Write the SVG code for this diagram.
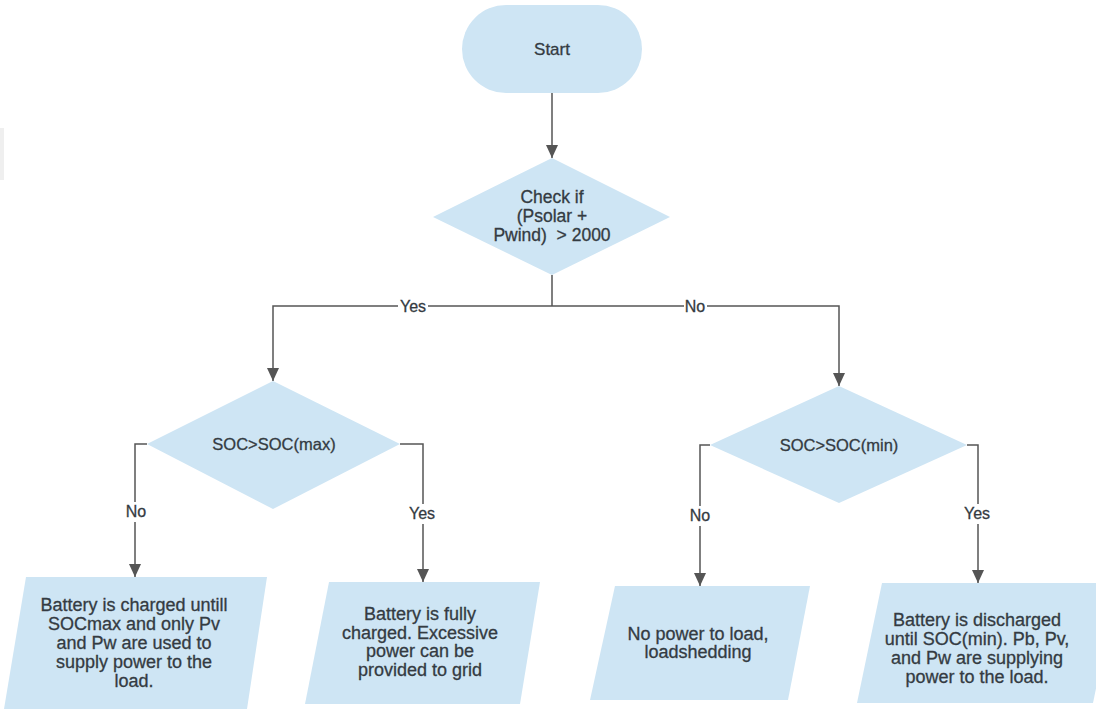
<svg xmlns="http://www.w3.org/2000/svg" width="1096" height="710" viewBox="0 0 1096 710">
  <style>
    .shape { fill: #cee5f4; stroke: none; }
    .edge { fill: none; stroke: #555555; stroke-width: 1.5; }
    .txt { font-family: "Liberation Sans", Arial, sans-serif; fill: #343b42; stroke: #343b42; stroke-width: 0.3; text-anchor: middle; }
    .t18 { font-size: 18px; }
    .t17 { font-size: 17.5px; }
    .t16 { font-size: 16.5px; }
    .lbl { font-family: "Liberation Sans", Arial, sans-serif; font-size: 16px; fill: #343b42; stroke: #343b42; stroke-width: 0.3; text-anchor: middle; }
    .lblbg { fill: #ffffff; }
  </style>
  <defs>
    <marker id="arrow" markerUnits="userSpaceOnUse" markerWidth="14" markerHeight="14" viewBox="0 0 14 14" refX="13" refY="7" orient="auto">
      <path d="M0,1 L13,7 L0,13 Z" fill="#555555"/>
    </marker>
  </defs>

  <rect x="0" y="128" width="4" height="52" fill="#efefef"/>

  <!-- connectors -->
  <g id="connectors">
    <path class="edge" d="M552,93 V158" marker-end="url(#arrow)"/>
    <path class="edge" d="M552,275 V306"/>
    <path class="edge" d="M552,306 H273 V381" marker-end="url(#arrow)"/>
    <path class="edge" d="M552,306 H839 V386" marker-end="url(#arrow)"/>
    <path class="edge" d="M147,444 H135 V577" marker-end="url(#arrow)"/>
    <path class="edge" d="M400,444 H423 V582" marker-end="url(#arrow)"/>
    <path class="edge" d="M710,445 H700 V586" marker-end="url(#arrow)"/>
    <path class="edge" d="M967,445 H978 V583" marker-end="url(#arrow)"/>

    <rect class="lblbg" x="398" y="297" width="30" height="18"/>
    <text class="lbl" x="413" y="312">Yes</text>
    <rect class="lblbg" x="684" y="297" width="23" height="18"/>
    <text class="lbl" x="695" y="312">No</text>

    <rect class="lblbg" x="125" y="502" width="22" height="20"/>
    <text class="lbl" x="136" y="517">No</text>
    <rect class="lblbg" x="407" y="504" width="31" height="20"/>
    <text class="lbl" x="422" y="519">Yes</text>
    <rect class="lblbg" x="689" y="506" width="22" height="20"/>
    <text class="lbl" x="700" y="521">No</text>
    <rect class="lblbg" x="962" y="504" width="31" height="20"/>
    <text class="lbl" x="977" y="519">Yes</text>
  </g>

  <g id="start">
    <rect class="shape" x="462" y="5" width="180" height="88" rx="44" ry="44"/>
    <text class="txt" style="font-size:17px" x="552" y="55">Start</text>
  </g>

  <g id="check-power">
    <polygon class="shape" points="552,158 670,217 552,275 433,217"/>
    <text class="txt t17" x="552" y="203">Check if</text>
    <text class="txt t17" x="552" y="222">(Psolar +</text>
    <text class="txt t17" x="552" y="241">Pwind)&#160; &gt; 2000</text>
  </g>

  <g id="soc-max">
    <polygon class="shape" points="273,381 400,444 273,509 147,444"/>
    <text class="txt t16" x="274" y="450">SOC&gt;SOC(max)</text>
  </g>

  <g id="soc-min">
    <polygon class="shape" points="839,386 967,445 839,503 710,445"/>
    <text class="txt t16" x="839" y="451">SOC&gt;SOC(min)</text>
  </g>

  <g id="charge-until-max">
    <polygon class="shape" points="26,577 267,577 247,709 4,709"/>
    <text class="txt t18" x="134" y="611">Battery is charged untill</text>
    <text class="txt t18" x="134" y="630">SOCmax and only Pv</text>
    <text class="txt t18" x="134" y="649">and Pw are used to</text>
    <text class="txt t18" x="134" y="668">supply power to the</text>
    <text class="txt t18" x="134" y="687">load.</text>
  </g>

  <g id="fully-charged">
    <polygon class="shape" points="329,582 540,582 520,704 305,704"/>
    <text class="txt t18" x="420" y="620">Battery is fully</text>
    <text class="txt t18" x="420" y="638.5">charged. Excessive</text>
    <text class="txt t18" x="420" y="657">power can be</text>
    <text class="txt t18" x="420" y="675.5">provided to grid</text>
  </g>

  <g id="load-shedding">
    <polygon class="shape" points="615,586 810,586 788,700 590,700"/>
    <text class="txt t18" x="698" y="640">No power to load,</text>
    <text class="txt t18" x="698" y="658">loadshedding</text>
  </g>

  <g id="discharge-until-min">
    <polygon class="shape" points="882,583 1118,583 1093,703 857,703"/>
    <text class="txt t18" x="977" y="626">Battery is discharged</text>
    <text class="txt t18" x="977" y="645">until SOC(min). Pb, Pv,</text>
    <text class="txt t18" x="977" y="664">and Pw are supplying</text>
    <text class="txt t18" x="977" y="683">power to the load.</text>
  </g>
</svg>
